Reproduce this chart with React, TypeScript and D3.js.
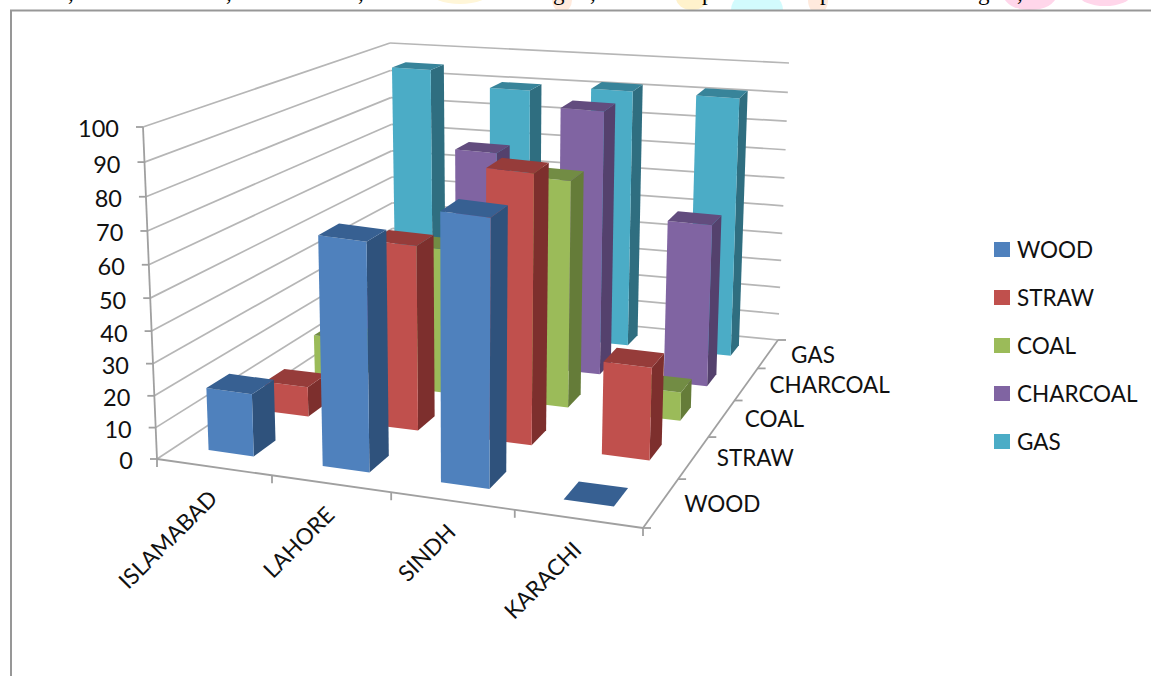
import React from "react";
import * as d3 from "d3";

// Chart content
const cities = ["ISLAMABAD", "LAHORE", "SINDH", "KARACHI"];
const fuels = ["WOOD", "STRAW", "COAL", "CHARCOAL", "GAS"];
const wood = [20, 72, 84, 0];
const straw = [10, 61, 88, 31];
const coal = [15, 50, 77, 10];
const charcoal = [20, 75, 92, 57];
const gas = [95, 90, 92, 92];
const fuelValues = [wood, straw, coal, charcoal, gas];
const valueTicks = d3.range(0, 101, 10);

// Face colours per fuel: front, side, top
const frontColors = ["#4f81bd", "#c0504d", "#9bbb59", "#8064a2", "#4bacc6"];
const sideColors = ["#2f527c", "#7d2f2d", "#657c39", "#54416d", "#2f6e80"];
const topColors = ["#376092", "#963c3a", "#728c44", "#624c7e", "#38849a"];

// Text fragments of the page line cut off above the frame
const pageGlyphs: [string, number][] = [
  [",", 68], [",", 226], [",", 358], ["g", 553], [",", 590], ["p", 702], ["p", 820], ["g", 978], [",", 1017],
];
const pageBlobs: [number, number, number, number, string][] = [
  [460, -8, 30, 12, "#fff6d8"], [562, 0, 10, 12, "#ffeadd"], [692, -2, 16, 12, "#fff2cc"],
  [757, 10, 26, 20, "#d2fbfd"], [818, 0, 10, 14, "#ffeadd"], [1030, -4, 26, 14, "#ffd6ea"], [1105, -5, 26, 11, "#ffd6ea"],
];

// Corners of the plot box: x across cities, z into the depth, y upward
type Pt = [number, number];
const floorFL: Pt = [157, 459];
const floorFR: Pt = [643, 528];
const floorBL: Pt = [394, 303];
const floorBR: Pt = [778, 340];
const roofFL: Pt = [143, 127];
const roofFR: Pt = [652, 197];
const roofBL: Pt = [390, 43];
const roofBR: Pt = [789, 63];

const lerp = (a: Pt, b: Pt, t: number): Pt => [a[0] + (b[0] - a[0]) * t, a[1] + (b[1] - a[1]) * t];

// Perspective foreshortening along one axis
const warp = (t: number, k: number) => (k * t) / (1 + (k - 1) * t);

const xBand = d3.scaleBand<string>().domain(cities).range([0, 1]).paddingInner(0.6).paddingOuter(0.3).align(0.47);
const zBand = d3.scaleBand<string>().domain(fuels).range([0, 1]).paddingInner(0.62).paddingOuter(0.31);
const yScale = d3.scaleLinear().domain([0, 100]).range([0, 1]);

const project = (u: number, v: number, h: number): Pt => {
  const uu = warp(u, 0.93);
  const vv = warp(v, 1.405);
  const hh = warp(h, 0.94);
  const floor = lerp(lerp(floorFL, floorFR, uu), lerp(floorBL, floorBR, uu), vv);
  const roof = lerp(lerp(roofFL, roofFR, uu), lerp(roofBL, roofBR, uu), vv);
  return lerp(floor, roof, hh);
};

const poly = d3.line<Pt>().curve(d3.curveLinearClosed);
const seg = (a: Pt, b: Pt) => d3.line<Pt>()([a, b]) as string;

const FONT = "Lato, 'Open Sans', sans-serif";
const GRID = "#b6b6b6";
const AXIS = "#a0a0a0";
const TEXT = "#111";

function Bar({ ci, fi, value }: { ci: number; fi: number; value: number }) {
  const u0 = xBand(cities[ci]) as number;
  const u1 = u0 + xBand.bandwidth();
  const v0 = zBand(fuels[fi]) as number;
  const v1 = v0 + zBand.bandwidth();
  const h = yScale(value);
  const front = [project(u0, v0, 0), project(u1, v0, 0), project(u1, v0, h), project(u0, v0, h)];
  const side = [project(u1, v0, 0), project(u1, v1, 0), project(u1, v1, h), project(u1, v0, h)];
  const top = [project(u0, v0, h), project(u1, v0, h), project(u1, v1, h), project(u0, v1, h)];
  return (
    <g>
      {value > 0 && <path d={poly(side) as string} fill={sideColors[fi]} />}
      {value > 0 && <path d={poly(front) as string} fill={frontColors[fi]} />}
      <path d={poly(top) as string} fill={topColors[fi]} />
    </g>
  );
}

export default function App() {
  const depthOrder = d3.range(fuels.length).reverse();
  return (
    <svg width={1151} height={676} style={{ position: "absolute", left: 0, top: 0, background: "#fff" }}>
      {/* what remains of the page above the figure */}
      {pageBlobs.map(([cx, cy, rx, ry, c], i) => (
        <ellipse key={i} cx={cx} cy={cy} rx={rx} ry={ry} fill={c} />
      ))}
      {pageGlyphs.map(([g, x], i) => (
        <text key={i} x={x} y={0} fontFamily="'Liberation Serif', serif" fontSize={23} fill="#000">{g}</text>
      ))}
      <rect x={0} y={10} width={1151} height={666} fill="#fff" />
      <path d="M1151,10.5H11V676" fill="none" stroke="#979797" strokeWidth={2} />

      {/* walls */}
      {valueTicks.map((t) => {
        const h = yScale(t);
        return (
          <g key={t}>
            <path d={seg(project(0, 0, h), project(0, 1, h))} stroke={GRID} strokeWidth={1.7} fill="none" />
            <path d={seg(project(0, 1, h), project(1, 1, h))} stroke={GRID} strokeWidth={1.7} fill="none" />
          </g>
        );
      })}

      {/* value axis */}
      <path d={seg(project(0, 0, 0), project(0, 0, 1))} stroke={AXIS} strokeWidth={1.8} fill="none" />
      {valueTicks.map((t) => {
        const [x, y] = project(0, 0, yScale(t));
        return (
          <g key={t}>
            <path d={seg([x - 7, y], [x, y])} stroke={AXIS} strokeWidth={1.8} fill="none" />
            <text x={x - 24} y={y + 2} dy="0.36em" textAnchor="end" fontFamily={FONT} fontSize={23.5} fill={TEXT}>{t}</text>
          </g>
        );
      })}

      {/* floor edges */}
      <path d={seg(project(0, 0, 0), project(1, 0, 0))} stroke={AXIS} strokeWidth={1.8} fill="none" />
      <path d={seg(project(1, 0, 0), project(1, 1, 0))} stroke={AXIS} strokeWidth={1.8} fill="none" />
      {d3.range(cities.length + 1).map((i) => {
        const [x, y] = project(i / cities.length, 0, 0);
        return <path key={i} d={seg([x, y], [x, y + 8])} stroke={AXIS} strokeWidth={1.8} fill="none" />;
      })}
      {d3.range(fuels.length + 1).map((i) => {
        const [x, y] = project(1, i / fuels.length, 0);
        return <path key={i} d={seg([x, y], [x + 8, y])} stroke={AXIS} strokeWidth={1.8} fill="none" />;
      })}

      {/* bars, far row first, left to right within a row */}
      {depthOrder.map((fi) =>
        cities.map((_, ci) => <Bar key={`${fi}-${ci}`} ci={ci} fi={fi} value={fuelValues[fi][ci]} />)
      )}

      {/* city labels */}
      {cities.map((c) => {
        const [x, y] = project((xBand(c) as number) + xBand.bandwidth() / 2, 0, 0);
        return (
          <text key={c} transform={`translate(${x + 7},${y + 33}) rotate(-45)`} textAnchor="end"
            fontFamily={FONT} fontSize={22.5} fill={TEXT}>{c}</text>
        );
      })}

      {/* depth labels */}
      {fuels.map((f) => {
        const [x, y] = project(1, (zBand(f) as number) + zBand.bandwidth() / 2, 0);
        return (
          <text key={f} x={x + 23} y={y + 1} dy="0.36em" fontFamily={FONT} fontSize={22.5} fill={TEXT}>{f}</text>
        );
      })}

      {/* legend */}
      {fuels.map((f, i) => (
        <g key={f}>
          <rect x={994} y={242 + i * 48} width={16} height={15} fill={frontColors[i]} />
          <text x={1017} y={249.5 + i * 48} dy="0.36em" fontFamily={FONT} fontSize={22.5} fill={TEXT}>{f}</text>
        </g>
      ))}
    </svg>
  );
}
